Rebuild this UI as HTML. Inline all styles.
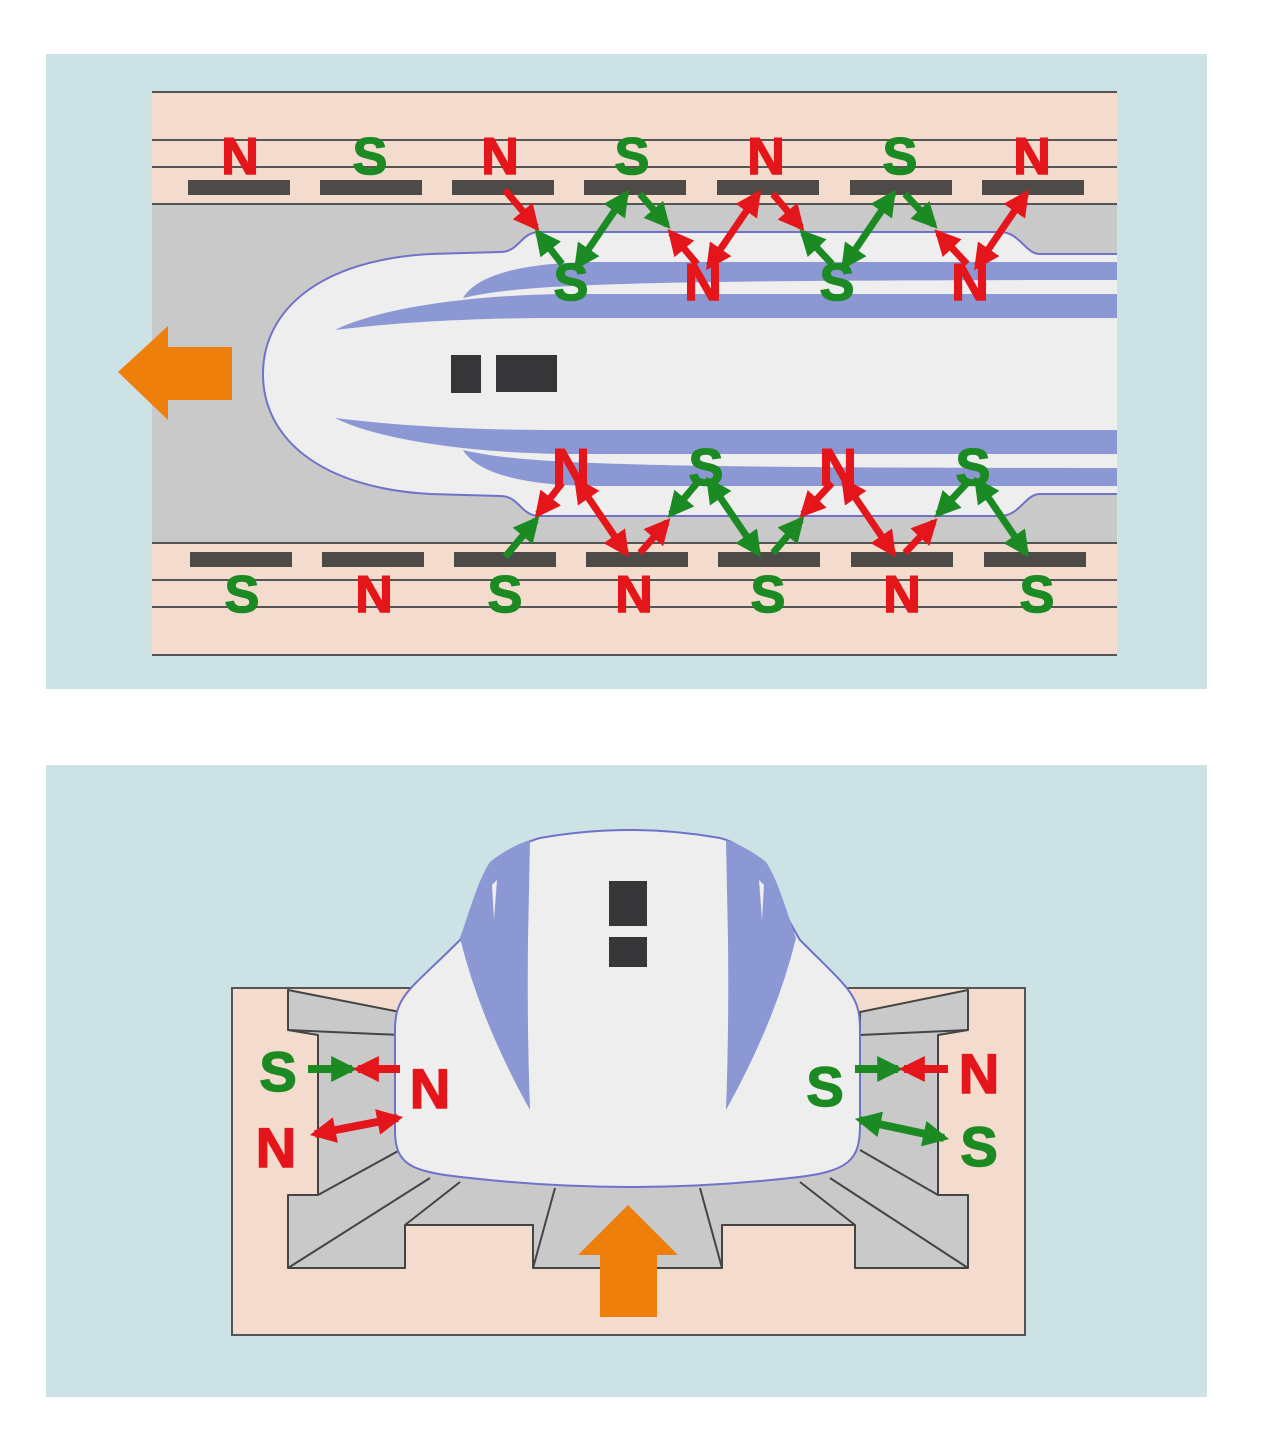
<!DOCTYPE html>
<html><head><meta charset="utf-8"><style>html,body{margin:0;padding:0;background:#fff}svg{display:block}</style></head><body>
<svg width="1274" height="1448" viewBox="0 0 1274 1448" xmlns="http://www.w3.org/2000/svg" font-family="Liberation Sans, sans-serif" font-weight="bold">
<defs>
<marker id="hr" markerUnits="userSpaceOnUse" markerWidth="26" markerHeight="26" refX="16" refY="10" orient="auto-start-reverse" viewBox="0 0 20 20"><path d="M0,0 L20,10 L0,20 Z" fill="#e5161b"/></marker>
<marker id="hg" markerUnits="userSpaceOnUse" markerWidth="26" markerHeight="26" refX="16" refY="10" orient="auto-start-reverse" viewBox="0 0 20 20"><path d="M0,0 L20,10 L0,20 Z" fill="#1c8a22"/></marker>
</defs>
<rect x="0" y="0" width="1274" height="1448" fill="#fff"/>
<!-- TOP PANEL -->
<rect x="46" y="54" width="1161" height="635" fill="#cde2e4"/>
<rect x="152" y="92" width="965" height="564" fill="#f3dccd"/>
<rect x="152" y="204" width="965" height="339" fill="#c9c9c9"/>
<g stroke="#555" stroke-width="2">
<line x1="152" y1="92" x2="1117" y2="92"/><line x1="152" y1="140" x2="1117" y2="140"/><line x1="152" y1="167" x2="1117" y2="167"/><line x1="152" y1="204" x2="1117" y2="204"/>
<line x1="152" y1="543" x2="1117" y2="543"/><line x1="152" y1="580" x2="1117" y2="580"/><line x1="152" y1="607" x2="1117" y2="607"/><line x1="152" y1="655" x2="1117" y2="655"/>
</g>
<g fill="#4d4a47">
<rect x="188" y="180" width="102" height="15"/><rect x="320" y="180" width="102" height="15"/><rect x="452" y="180" width="102" height="15"/><rect x="584" y="180" width="102" height="15"/><rect x="717" y="180" width="102" height="15"/><rect x="850" y="180" width="102" height="15"/><rect x="982" y="180" width="102" height="15"/>
<rect x="190" y="552" width="102" height="15"/><rect x="322" y="552" width="102" height="15"/><rect x="454" y="552" width="102" height="15"/><rect x="586" y="552" width="102" height="15"/><rect x="718" y="552" width="102" height="15"/><rect x="851" y="552" width="102" height="15"/><rect x="984" y="552" width="102" height="15"/>
</g>
<!-- train top view -->
<path d="M1117,254 L1040,254 C1025,254 1020,232 1000,232 L540,232 C520,232 520,252 500,252 L430,254 C320,260 263,310 263,374 C263,438 320,488 430,494 L500,496 C520,496 520,516 540,516 L1000,516 C1020,516 1025,494 1040,494 L1117,494" fill="#eeeeef" stroke="#6f72c8" stroke-width="2"/>
<g fill="#8b98d4">
<path d="M1117,262 L600,262 C540,262 480,270 463,298 C520,285 600,280 1117,280 Z"/>
<path d="M1117,294 L560,294 C450,296 370,312 335,330 C400,322 470,318 560,318 L1117,318 Z"/>
<path d="M1117,486 L600,486 C540,486 480,478 463,450 C520,463 600,468 1117,468 Z"/>
<path d="M1117,454 L560,454 C450,452 370,436 335,418 C400,426 470,430 560,430 L1117,430 Z"/>
</g>
<rect x="451" y="355" width="30" height="38" fill="#363639"/>
<rect x="496" y="355" width="61" height="37" fill="#363639"/>
<polygon points="118,372 168,326 168,347 232,347 232,400 168,400 168,420" fill="#ef7f0b"/>
<!-- top labels -->
<g font-size="52" text-anchor="middle" stroke-width="1.5">
<text x="240" y="174" fill="#e5161b" stroke="#e5161b">N</text><text x="370" y="174" fill="#1c8a22" stroke="#1c8a22">S</text><text x="500" y="174" fill="#e5161b" stroke="#e5161b">N</text><text x="632" y="174" fill="#1c8a22" stroke="#1c8a22">S</text><text x="766" y="174" fill="#e5161b" stroke="#e5161b">N</text><text x="900" y="174" fill="#1c8a22" stroke="#1c8a22">S</text><text x="1032" y="174" fill="#e5161b" stroke="#e5161b">N</text>
<text x="571" y="300" fill="#1c8a22" stroke="#1c8a22">S</text><text x="703" y="300" fill="#e5161b" stroke="#e5161b">N</text><text x="837" y="300" fill="#1c8a22" stroke="#1c8a22">S</text><text x="970" y="300" fill="#e5161b" stroke="#e5161b">N</text>
<text x="571" y="485" fill="#e5161b" stroke="#e5161b">N</text><text x="706" y="485" fill="#1c8a22" stroke="#1c8a22">S</text><text x="838" y="485" fill="#e5161b" stroke="#e5161b">N</text><text x="973" y="485" fill="#1c8a22" stroke="#1c8a22">S</text>
<text x="242" y="612" fill="#1c8a22" stroke="#1c8a22">S</text><text x="374" y="612" fill="#e5161b" stroke="#e5161b">N</text><text x="505" y="612" fill="#1c8a22" stroke="#1c8a22">S</text><text x="634" y="612" fill="#e5161b" stroke="#e5161b">N</text><text x="768" y="612" fill="#1c8a22" stroke="#1c8a22">S</text><text x="902" y="612" fill="#e5161b" stroke="#e5161b">N</text><text x="1037" y="612" fill="#1c8a22" stroke="#1c8a22">S</text>
</g>
<g stroke-width="7" fill="none">
<line x1="505" y1="190" x2="536" y2="227" stroke="#e5161b" marker-end="url(#hr)"/>
<line x1="562" y1="264" x2="538" y2="233" stroke="#1c8a22" marker-end="url(#hg)"/>
<line x1="577" y1="266" x2="626" y2="194" stroke="#1c8a22" marker-start="url(#hg)" marker-end="url(#hg)"/>
<line x1="640" y1="194" x2="667" y2="225" stroke="#1c8a22" marker-end="url(#hg)"/>
<line x1="697" y1="264" x2="671" y2="233" stroke="#e5161b" marker-end="url(#hr)"/>
<line x1="709" y1="266" x2="758" y2="194" stroke="#e5161b" marker-start="url(#hr)" marker-end="url(#hr)"/>
<line x1="773" y1="194" x2="801" y2="227" stroke="#e5161b" marker-end="url(#hr)"/>
<line x1="832" y1="264" x2="803" y2="233" stroke="#1c8a22" marker-end="url(#hg)"/>
<line x1="844" y1="266" x2="893" y2="194" stroke="#1c8a22" marker-start="url(#hg)" marker-end="url(#hg)"/>
<line x1="905" y1="194" x2="934" y2="225" stroke="#1c8a22" marker-end="url(#hg)"/>
<line x1="967" y1="264" x2="938" y2="233" stroke="#e5161b" marker-end="url(#hr)"/>
<line x1="977" y1="266" x2="1026" y2="194" stroke="#e5161b" marker-start="url(#hr)" marker-end="url(#hr)"/>
<line x1="505" y1="557" x2="536" y2="520" stroke="#1c8a22" marker-end="url(#hg)"/>
<line x1="562" y1="483" x2="538" y2="514" stroke="#e5161b" marker-end="url(#hr)"/>
<line x1="577" y1="481" x2="626" y2="553" stroke="#e5161b" marker-start="url(#hr)" marker-end="url(#hr)"/>
<line x1="640" y1="553" x2="667" y2="522" stroke="#e5161b" marker-end="url(#hr)"/>
<line x1="697" y1="483" x2="671" y2="514" stroke="#1c8a22" marker-end="url(#hg)"/>
<line x1="709" y1="481" x2="758" y2="553" stroke="#1c8a22" marker-start="url(#hg)" marker-end="url(#hg)"/>
<line x1="773" y1="553" x2="801" y2="520" stroke="#1c8a22" marker-end="url(#hg)"/>
<line x1="832" y1="483" x2="803" y2="514" stroke="#e5161b" marker-end="url(#hr)"/>
<line x1="844" y1="481" x2="893" y2="553" stroke="#e5161b" marker-start="url(#hr)" marker-end="url(#hr)"/>
<line x1="905" y1="553" x2="934" y2="522" stroke="#e5161b" marker-end="url(#hr)"/>
<line x1="967" y1="483" x2="938" y2="514" stroke="#1c8a22" marker-end="url(#hg)"/>
<line x1="977" y1="481" x2="1026" y2="553" stroke="#1c8a22" marker-start="url(#hg)" marker-end="url(#hg)"/>
</g>
<!-- BOTTOM PANEL -->
<rect x="46" y="765" width="1161" height="632" fill="#cde2e4"/>
<rect x="232" y="988" width="793" height="347" fill="#f3dccd" stroke="#555" stroke-width="2"/>
<polygon points="288,990 400,1012 400,1060 860,1060 860,1012 968,990 968,1030 938,1035 938,1195 968,1195 968,1268 855,1268 855,1225 722,1225 722,1268 533,1268 533,1225 405,1225 405,1268 288,1268 288,1195 318,1195 318,1035 288,1030" fill="#c9c9c9" stroke="#444" stroke-width="2" stroke-linejoin="round"/>
<g stroke="#444" stroke-width="2">
<line x1="288" y1="1030" x2="400" y2="1035"/><line x1="968" y1="1030" x2="860" y2="1035"/>
<line x1="318" y1="1195" x2="400" y2="1150"/><line x1="938" y1="1195" x2="860" y2="1150"/>
<line x1="288" y1="1268" x2="430" y2="1178"/><line x1="405" y1="1225" x2="460" y2="1182"/>
<line x1="533" y1="1268" x2="555" y2="1188"/><line x1="722" y1="1268" x2="700" y2="1188"/>
<line x1="855" y1="1225" x2="800" y2="1182"/><line x1="968" y1="1268" x2="830" y2="1178"/>
</g>
<path d="M395,1130 C395,1165 410,1172 470,1178 Q630,1196 790,1178 C850,1172 860,1160 860,1125 L860,1030 C860,995 850,990 800,940 C770,890 760,848 720,838 Q630,822 540,838 C500,848 490,890 460,940 C410,990 395,995 395,1030 Z" fill="#eeeeef" stroke="#6f72c8" stroke-width="2"/>
<g fill="#8b98d4">
<path d="M490,862 C505,850 520,843 530,840 L528,940 Q527,1030 530,1110 Q480,1020 460,938 C470,910 478,880 490,862 Z"/>
<path d="M766,862 C751,850 736,843 726,840 L728,940 Q729,1030 726,1110 Q776,1020 796,938 C786,910 778,880 766,862 Z"/>
</g>
<path d="M492,885 L497,880 L494,920 Z" fill="#eeeeef"/><path d="M764,885 L759,880 L762,920 Z" fill="#eeeeef"/>
<rect x="609" y="881" width="38" height="45" fill="#363639"/>
<rect x="609" y="937" width="38" height="30" fill="#363639"/>
<polygon points="628,1205 678,1255 657,1255 657,1317 600,1317 600,1255 578,1255" fill="#ef7f0b"/>
<g font-size="56" text-anchor="middle" stroke-width="1.5">
<text x="278" y="1091" fill="#1c8a22" stroke="#1c8a22">S</text>
<text x="430" y="1108" fill="#e5161b" stroke="#e5161b">N</text>
<text x="276" y="1167" fill="#e5161b" stroke="#e5161b">N</text>
<text x="825" y="1106" fill="#1c8a22" stroke="#1c8a22">S</text>
<text x="979" y="1093" fill="#e5161b" stroke="#e5161b">N</text>
<text x="979" y="1166" fill="#1c8a22" stroke="#1c8a22">S</text>
</g>
<g stroke-width="8" fill="none">
<line x1="308" y1="1069" x2="352" y2="1069" stroke="#1c8a22" marker-end="url(#hg)"/>
<line x1="400" y1="1069" x2="358" y2="1069" stroke="#e5161b" marker-end="url(#hr)"/>
<line x1="315" y1="1134" x2="398" y2="1118" stroke="#e5161b" marker-start="url(#hr)" marker-end="url(#hr)"/>
<line x1="855" y1="1069" x2="898" y2="1069" stroke="#1c8a22" marker-end="url(#hg)"/>
<line x1="948" y1="1069" x2="904" y2="1069" stroke="#e5161b" marker-end="url(#hr)"/>
<line x1="860" y1="1120" x2="944" y2="1138" stroke="#1c8a22" marker-start="url(#hg)" marker-end="url(#hg)"/>
</g>
</svg>
</body></html>
